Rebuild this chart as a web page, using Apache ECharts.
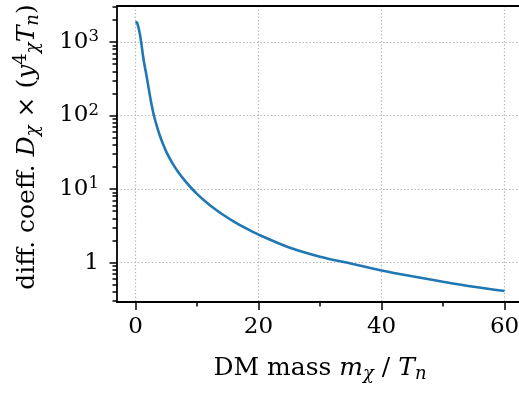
<!DOCTYPE html>
<html>
<head>
<meta charset="utf-8">
<script src="https://cdn.jsdelivr.net/npm/echarts@6/dist/echarts.min.js"></script>
<style>
html,body{margin:0;padding:0;background:#fff;overflow:hidden;width:519px;height:394px;}
#chart{width:526px;height:394px;}
</style>
</head>
<body>
<div id="chart"></div>
<script>
// DM mass m_chi / T_n
const mass = [0, 0.25, 0.5, 0.75, 1, 1.25, 1.5, 1.75, 2, 2.5, 3, 3.5, 4, 4.5, 5, 6, 7, 8, 9, 10, 11, 12, 14, 16, 18, 20, 25, 30, 35, 40, 45, 50, 55, 60];
// diffusion coefficient D_chi x (y^4 T_n)
const diffCoeff = [1880, 1830, 1560, 1240, 900, 630, 471, 367, 278, 159, 100, 70.6, 52.2, 40.5, 32.3, 22.5, 16.8, 13.1, 10.5, 8.6, 7.2, 6.13, 4.62, 3.61, 2.91, 2.4, 1.6, 1.2, 0.97, 0.78, 0.65, 0.55, 0.47, 0.41];

const xMajorTicks = [0, 20, 40, 60];
const xMinorTicks = [10, 30, 50];
const yMajorTicks = [1, 10, 100, 1000];
const yMinorTicks = [0.3, 0.4, 0.5, 0.6, 0.7, 0.8, 0.9,
  2, 3, 4, 5, 6, 7, 8, 9,
  20, 30, 40, 50, 60, 70, 80, 90,
  200, 300, 400, 500, 600, 700, 800, 900,
  2000, 3000];

const FONT = 'DejaVu Serif';
const X_MIN = -3, X_MAX = 63;
const Y_MIN = 0.291, Y_MAX = 3088;

const chart = echarts.init(document.getElementById('chart'), null, {renderer: 'canvas'});
const points = mass.map((m, i) => [m, diffCoeff[i]]);

function tickStyle() { return {color: '#000', width: 1.5}; }
function spine() { return {show: true, onZero: false, lineStyle: {color: '#000', width: 1.8}}; }
function noLine() { return {show: false, onZero: false}; }
function gridLine() { return {show: true, lineStyle: {color: '#b0b0b0', width: 1.2, type: [1.3, 2.2]}}; }
function makeRich(size, subSize, lh) {
  return {
    n: {fontFamily: FONT, fontSize: size, color: '#000', lineHeight: lh},
    i: {fontFamily: FONT, fontSize: size, fontStyle: 'italic', color: '#000', lineHeight: lh},
    sub: {fontFamily: FONT, fontSize: subSize, fontStyle: 'italic', color: '#000', lineHeight: lh - 12, verticalAlign: 'bottom'},
    sup: {fontFamily: FONT, fontSize: subSize, color: '#000', lineHeight: lh - 11, verticalAlign: 'top'}
  };
}

const option = {
  animation: false,
  backgroundColor: '#fff',
  grid: {left: 117, right: 3, top: 6, bottom: 92, show: false, containLabel: false, outerBoundsMode: 'none'},
  xAxis: [{
    type: 'value', position: 'bottom', min: X_MIN, max: X_MAX, splitNumber: 3,
    axisLine: spine(),
    axisTick: {show: true, length: 8, lineStyle: tickStyle(), customValues: xMajorTicks},
    axisLabel: {show: true, margin: 14, customValues: xMajorTicks, fontFamily: FONT, fontSize: 23, color: '#000'},
    splitLine: gridLine(),
    name: '{n|DM mass }{i|m}{sub|χ}{n| / }{i|T}{sub|n}',
    nameLocation: 'middle', nameGap: 52,
    nameTextStyle: {rich: makeRich(25, 18, 29)}
  }, {
    type: 'value', position: 'bottom', min: X_MIN, max: X_MAX,
    axisLine: noLine(),
    axisTick: {show: true, length: 4.5, lineStyle: tickStyle(), customValues: xMinorTicks},
    axisLabel: {show: false},
    splitLine: {show: false}
  }, {
    type: 'value', position: 'top', min: X_MIN, max: X_MAX,
    axisLine: spine(),
    axisTick: {show: false},
    axisLabel: {show: false},
    splitLine: {show: false}
  }],
  yAxis: [{
    type: 'log', logBase: 10, position: 'left', min: Y_MIN, max: Y_MAX,
    axisLine: spine(),
    axisTick: {show: true, length: 7.5, lineStyle: tickStyle(), customValues: yMajorTicks},
    axisLabel: {
      show: true, margin: 18, customValues: yMajorTicks,
      formatter: function (v) {
        const e = Math.round(Math.log10(v));
        if (e === 0) return '{n|1}';
        return '{n|10}{sup|' + e + '}';
      },
      rich: makeRich(23, 16.5, 27)
    },
    splitLine: gridLine(),
    name: '{n|diff. coeff. }{i|D}{sub|χ}{n| × (}{i|y}{sup|4}{sub|χ}{i|T}{sub|n}{n|)}',
    nameLocation: 'middle', nameRotate: 90, nameGap: 75,
    nameTextStyle: {rich: makeRich(25, 18, 30), padding: [0, 0, 0, 14]}
  }, {
    type: 'log', logBase: 10, position: 'left', min: Y_MIN, max: Y_MAX,
    axisLine: noLine(),
    axisTick: {show: true, length: 4.5, lineStyle: tickStyle(), customValues: yMinorTicks},
    axisLabel: {show: false},
    splitLine: {show: false}
  }],
  series: [{
    type: 'line',
    xAxisIndex: 0, yAxisIndex: 0,
    data: points,
    showSymbol: false,
    smooth: 0.3,
    lineStyle: {color: '#1f77b4', width: 2.6}
  }]
};

chart.setOption(option);
</script>
</body>
</html>
